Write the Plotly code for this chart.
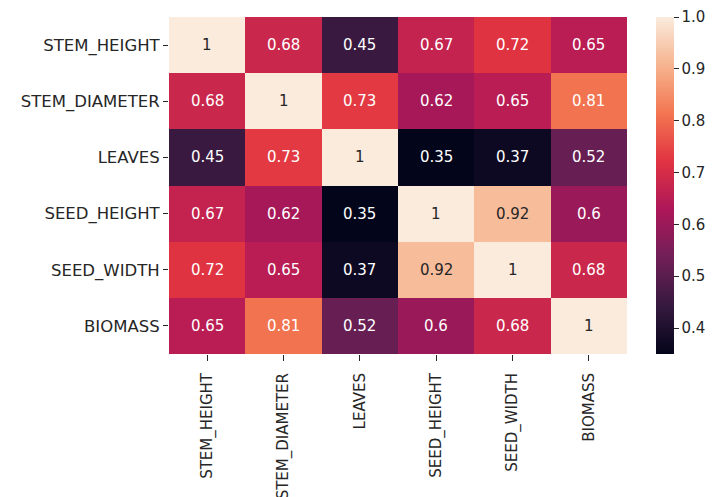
import plotly.graph_objects as go

labels = ["STEM_HEIGHT", "STEM_DIAMETER", "LEAVES", "SEED_HEIGHT", "SEED_WIDTH", "BIOMASS"]
row_stem_height = [1, 0.68, 0.45, 0.67, 0.72, 0.65]
row_stem_diameter = [0.68, 1, 0.73, 0.62, 0.65, 0.81]
row_leaves = [0.45, 0.73, 1, 0.35, 0.37, 0.52]
row_seed_height = [0.67, 0.62, 0.35, 1, 0.92, 0.6]
row_seed_width = [0.72, 0.65, 0.37, 0.92, 1, 0.68]
row_biomass = [0.65, 0.81, 0.52, 0.6, 0.68, 1]
z = [row_stem_height, row_stem_diameter, row_leaves, row_seed_height, row_seed_width, row_biomass]
cbar_ticks = [0.4, 0.5, 0.6, 0.7, 0.8, 0.9, 1.0]

rocket = [
    [0.0, "#03051a"],
    [1/7, "#35193e"],
    [2/7, "#701f57"],
    [3/7, "#ad1759"],
    [4/7, "#e13342"],
    [5/7, "#f37651"],
    [6/7, "#f6b48f"],
    [1.0, "#faebdd"],
]

zmin, zmax = 0.35, 1.0
FONT = "DejaVu Sans"
TXT = "#262626"
fig = go.Figure(go.Heatmap(
    z=z, x=labels, y=labels, colorscale=rocket, zmin=zmin, zmax=zmax,
    xgap=0, ygap=0,
    colorbar=dict(
        x=1.063, xanchor="left", xpad=0, ypad=0, y=0.5, len=1, lenmode="fraction",
        thickness=18, outlinewidth=0,
        tickvals=cbar_ticks, ticktext=[f"{t:.1f}" for t in cbar_ticks],
        ticks="outside", ticklen=5, tickcolor=TXT,
        tickfont=dict(family=FONT, size=15, color=TXT),
    ),
))

for i, row in enumerate(z):
    for j, v in enumerate(row):
        frac = (v - zmin) / (zmax - zmin)
        col = TXT if frac > 0.8 else "#ffffff"
        fig.add_annotation(x=labels[j], y=labels[i], text=f"{v:g}", showarrow=False,
                           font=dict(family=FONT, size=15, color=col))

fig.update_layout(
    width=707, height=489,
    margin=dict(l=161, r=88, t=9, b=143),
    paper_bgcolor="white", plot_bgcolor="white",
    font=dict(family=FONT, size=15, color=TXT),
)
fig.update_xaxes(tickangle=-90, ticks="outside", ticklen=6, tickcolor=TXT, automargin=False,
                 ticklabelstandoff=6,
                 showgrid=False, zeroline=False, showline=False,
                 tickfont=dict(family=FONT, size=15, color=TXT))
fig.update_yaxes(autorange="reversed", ticks="outside", ticklen=5, tickcolor=TXT, automargin=False,
                 showgrid=False, zeroline=False, showline=False,
                 tickfont=dict(family=FONT, size=16.5, color=TXT))

fig.write_html("out.html")
